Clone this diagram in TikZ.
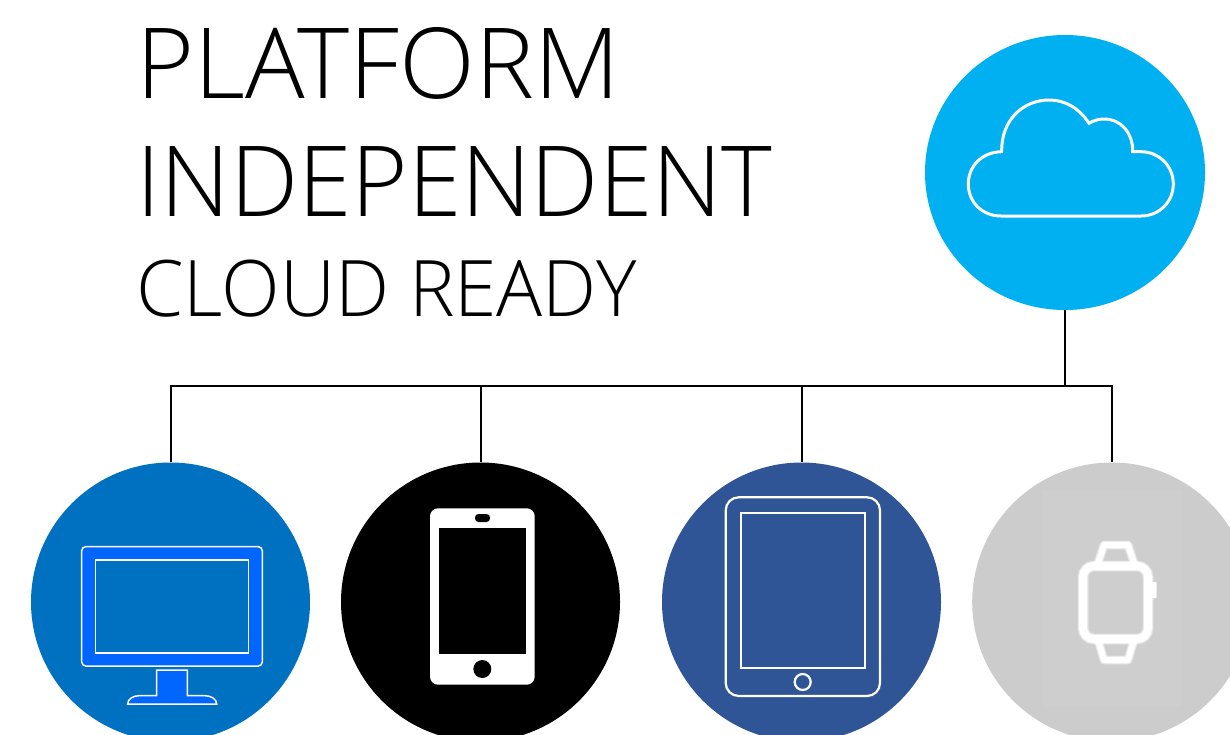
\documentclass[tikz,border=0pt]{standalone}
\usepackage{fontspec}
\setmainfont{Open Sans Light}
\usetikzlibrary{shapes.geometric}
\definecolor{cloudblue}{HTML}{00B0F0}
\definecolor{deskblue}{HTML}{0070C0}
\definecolor{vivid}{HTML}{0066FF}
\definecolor{padblue}{HTML}{2F5597}
\definecolor{watchgrey}{HTML}{CCCCCC}
\definecolor{patchgrey}{HTML}{CECECE}
\tikzset{
  disc/.style={circle,inner sep=0pt,minimum size=279pt,draw=none},
  title/.style={anchor=base west,inner sep=0pt,text=black},
  wire/.style={draw=black,line width=2pt},
  iconline/.style={draw=white,line width=1.5pt},
  padline/.style={draw=white,line width=2.2pt},
  watchglow/.style={draw=white,opacity=.35,line width=#1},
}
\begin{document}
\begin{tikzpicture}[x=1pt,y=-1pt]
\useasboundingbox (0,0) rectangle (1230,734);
\clip (0,0) rectangle (1230,734);
% titles
\node[title,font=\fontsize{98}{98}\selectfont] (t1) at (136,98) {\scalebox{1.012}[1]{PLATFORM}};
\node[title,font=\fontsize{98}{98}\selectfont] (t2) at (136,216) {\scalebox{0.985}[1]{INDEPENDENT}};
\node[title,font=\fontsize{78}{78}\selectfont] (t3) at (136,316) {\scalebox{0.982}[1]{CLOUD READY}};
% discs
\node[ellipse,inner sep=0pt,minimum width=280pt,minimum height=275pt,fill=cloudblue] (cloud) at (1065,172.5) {};
\node[disc,fill=deskblue] (desk) at (170.5,602) {};
\node[disc,fill=black] (phone) at (480.5,602) {};
\node[disc,fill=padblue] (pad) at (801.5,602) {};
\node[disc,fill=watchgrey] (watch) at (1111.7,602) {};
% connectors
\coordinate (bus) at (1065,386);
\draw[wire] (cloud.south) -- (bus);
\draw[wire] (bus) -| (desk.north);
\draw[wire] (bus) -| (phone.north);
\draw[wire] (bus) -| (pad.north);
\draw[wire] (bus) -| (watch.north);
% cloud icon
\draw[draw=white,line width=3pt,line join=miter]
 (1001.7,151.7) .. controls (1001,120) and (1023,100) .. (1049.3,100)
 .. controls (1065,100) and (1079,108) .. (1089,123.3)
 .. controls (1094,120.5) and (1098,119) .. (1104,119)
 .. controls (1121,119) and (1133,133) .. (1132.7,151.7)
 -- (1141,151.7) .. controls (1159,151.7) and (1173.3,166) .. (1173.3,184)
 .. controls (1173.3,202) and (1159,216) .. (1141,216)
 -- (1001,216) .. controls (982,216) and (968.3,202) .. (968.3,184)
 .. controls (968.3,166) and (982,152) .. (1001.7,151.7) -- cycle;
% monitor icon
\draw[iconline,fill=vivid,rounded corners=4pt] (81.7,546.7) rectangle (262.3,666);
\draw[iconline,fill=deskblue] (95.7,560) rectangle (248.3,653);
\draw[iconline,fill=vivid] (156.7,670) -- (187.3,670) -- (187.3,695.7) -- (205,695.7)
 .. controls (211,695.7) and (216.7,699) .. (216.7,704) -- (127.7,704)
 .. controls (127.7,699) and (133,695.7) .. (139,695.7) -- (156.7,695.7) -- cycle;
% phone icon
\fill[white,rounded corners=8pt] (430,508.3) rectangle (534.7,684.7);
\fill[black] (439.3,528) rectangle (525.7,653.7);
\fill[black,rounded corners=3.5pt] (475,514) rectangle (490,522);
\fill[black] (482.3,669) circle (9);
% tablet icon
\draw[padline,rounded corners=13pt] (725.7,497.3) rectangle (880,696);
\draw[padline] (741.3,513.3) rectangle (864.7,668);
\draw[padline] (802.7,682) circle (8);
% watch icon
\begin{scope}
\clip (1111.7,602) circle (139.5);
\fill[patchgrey] (1043,490) rectangle (1182,707);
\end{scope}
\foreach \w in {11,9.6}{
  \draw[watchglow=\w pt,rounded corners=11pt] (1083,566) rectangle (1148,639);
  \draw[watchglow=\w pt-2pt,line join=round] (1098,563) -- (1104,545) -- (1128,545) -- (1134,563);
  \draw[watchglow=\w pt-2pt,line join=round] (1098,640) -- (1104,660) -- (1128,660) -- (1134,640);
}
\draw[draw=white,line width=8pt,rounded corners=11pt] (1083,566) rectangle (1148,639);
\draw[draw=white,line width=6pt,line join=round] (1098,563) -- (1104,545) -- (1128,545) -- (1134,563);
\draw[draw=white,line width=6pt,line join=round] (1098,640) -- (1104,660) -- (1128,660) -- (1134,640);
\fill[white,rounded corners=1pt] (1150,582) rectangle (1156.7,598);
\end{tikzpicture}
\end{document}
